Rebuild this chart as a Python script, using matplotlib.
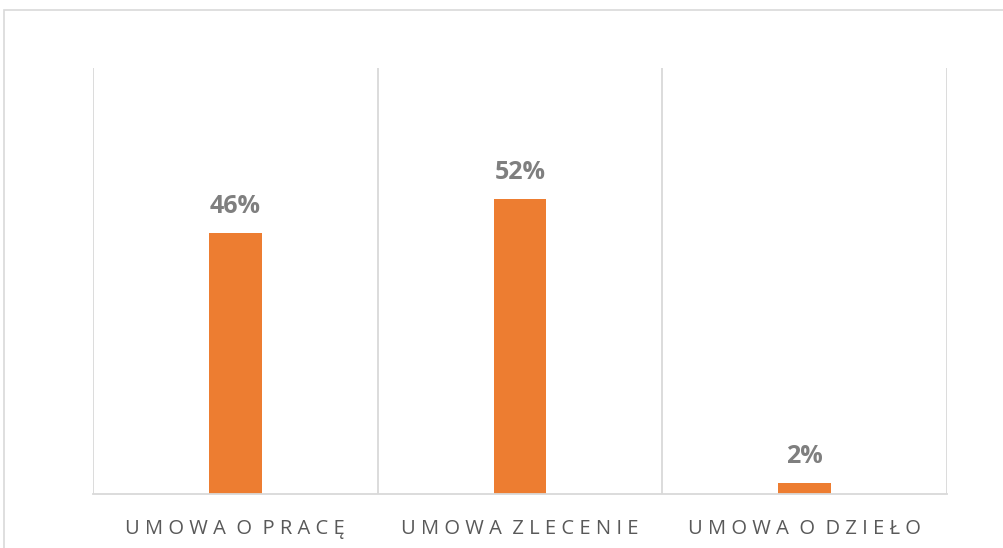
import matplotlib.pyplot as plt
from matplotlib.patches import Rectangle

categories = ["UMOWA O PRACĘ", "UMOWA ZLECENIE", "UMOWA O DZIEŁO"]
values = [0.46, 0.52, 0.02]
labels = ["46%", "52%", "2%"]


def spaced(s):
    # poor man's letter spacing
    return "  ".join(" ".join(w) for w in s.split(" "))


fig = plt.figure(figsize=(10.04, 5.48), dpi=100)
ax = fig.add_axes([93 / 1004, 1 - 494 / 548, 854 / 1004, 426 / 548])

x = list(range(len(categories)))
bars = ax.bar(x, values, width=0.186, color="#ED7D31", zorder=3)

for b, lab in zip(bars, labels):
    ax.annotate(lab, (b.get_x() + b.get_width() / 2, b.get_height()),
                xytext=(0, 10), textcoords="offset points", ha="center", va="bottom",
                fontsize=18, fontweight="bold", color="#7F7F7F", family="Open Sans")

ax.set_xlim(-0.5, 2.5)
ax.set_ylim(0, 0.75)
ax.set_yticks([])
ax.set_xticks(x)
ax.set_xticklabels([spaced(c) for c in categories], family="Open Sans", fontsize=14.5, color="#595959")
ax.tick_params(axis="x", length=0, pad=18)
ax.set_xticks([-0.5, 0.5, 1.5, 2.5], minor=True)
ax.tick_params(axis="x", which="minor", length=0)
ax.grid(True, which="minor", axis="x", color="#D9D9D9", lw=1.3)

for s in ["top", "left", "right"]:
    ax.spines[s].set_visible(False)
ax.spines["bottom"].set_color("#D9D9D9")
ax.spines["bottom"].set_linewidth(1.3)
ax.spines["bottom"].set_zorder(4)

fig.patches.append(Rectangle((4 / 1004, -0.1), 2, 1 - 10 / 548 + 0.1, transform=fig.transFigure,
                             fill=False, edgecolor="#D9D9D9", lw=1.2))

fig.savefig("out.png", dpi=100)
